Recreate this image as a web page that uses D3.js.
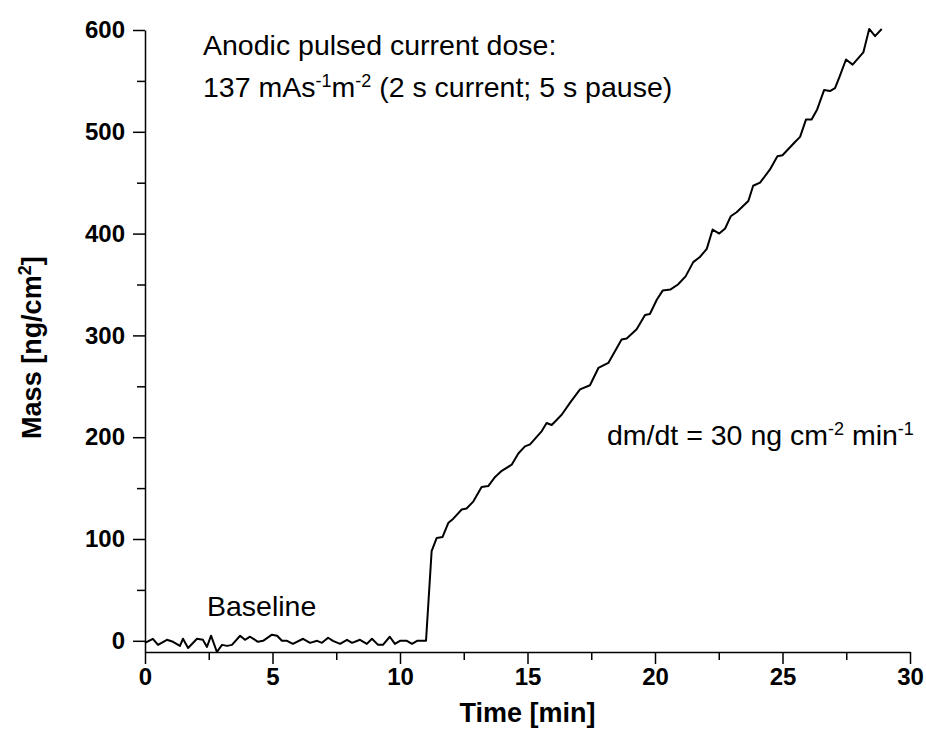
<!DOCTYPE html>
<html>
<head>
<meta charset="utf-8">
<script src="https://cdn.jsdelivr.net/npm/d3@7"></script>
<style>
  body { margin: 0; background: #fff; }
  svg { display: block; font-family: Arial, "Liberation Sans", sans-serif; }
  .tick text { font-weight: bold; font-size: 24px; fill: #000; }
  .tick line, .domain { stroke: #000; stroke-width: 1.5px; }
</style>
</head>
<body>
<div id="container"></div>
<script>
const width = 926, height = 746;
const margin = { top: 30, right: 16, bottom: 94, left: 145 };

// time [min] and mass [ng/cm2]
const time = [
  0, 0.31, 0.51, 0.86, 1.1, 1.37, 1.49, 1.69, 2.04, 2.27, 2.43, 2.59, 2.82, 3.02, 3.22, 3.41,
  3.73, 3.92, 4.12, 4.43, 4.63, 4.98, 5.18, 5.37, 5.57, 5.8, 6.2, 6.47, 6.75, 6.94, 7.18,
  7.37, 7.65, 7.92, 8.12, 8.43, 8.7, 8.9, 9.14, 9.33, 9.6, 9.8, 10.0, 10.27, 10.47, 10.67,
  10.9, 11.02, 11.24, 11.44, 11.67, 11.9, 12.09, 12.42, 12.61, 12.88, 13.2, 13.46, 13.73,
  13.99, 14.38, 14.64, 14.9, 15.1, 15.56, 15.75, 15.95, 16.34, 16.7, 17.06, 17.45, 17.78,
  18.17, 18.69, 18.89, 19.28, 19.61, 19.8, 20.07, 20.3, 20.6, 20.9, 21.2, 21.5, 21.76,
  22.03, 22.26, 22.52, 22.75, 22.97, 23.2, 23.66, 23.85, 24.12, 24.51, 24.8, 25.0, 25.49,
  25.69, 25.92, 26.14, 26.36, 26.63, 26.86, 27.06, 27.25, 27.49, 27.75, 28.17, 28.4,
  28.63, 28.89
];
const mass = [
  -2, 2, -4, 1, -1, -5, 2, -7, 2, 1, -6, 5, -11, -4, -5, -4,
  5, 1, 4, -1, 0, 6, 5, 0, 0, -3, 2, -2, 0, -2, 3,
  0, -3, 1, -2, 1, -3, 2, -4, -4, 4, -3, 0, 0, -3, 0,
  0, 0, 88, 101, 102, 116, 120, 129, 130, 137, 151, 152, 161,
  167, 173, 184, 191, 193, 206, 214, 212, 222, 235, 247, 251, 268,
  273, 296, 297, 306, 320, 321, 335, 344, 345, 350, 358, 372, 377,
  385, 404, 400, 405, 417, 421, 432, 447, 450, 463, 476, 477, 490,
  495, 512, 512, 522, 541, 540, 543, 555, 571, 566, 578, 601,
  594, 601
];

const xTicks = [0, 5, 10, 15, 20, 25, 30];
const yTicks = [0, 100, 200, 300, 400, 500, 600];

const svg = d3.select("#container").append("svg")
  .attr("width", width).attr("height", height);

const x = d3.scaleLinear().domain([0, 30]).range([margin.left, width - margin.right]);
const y = d3.scaleLinear().domain([-11, 600]).range([height - margin.bottom, margin.top]);

// minor ticks
svg.append("g")
  .attr("transform", `translate(0,${y(-11)})`)
  .call(d3.axisBottom(x).tickValues(d3.range(2.5, 30, 5)).tickSize(8).tickFormat(""))
  .call(g => g.select(".domain").remove());
svg.append("g")
  .attr("transform", `translate(${x(0)},0)`)
  .call(d3.axisLeft(y).tickValues(d3.range(50, 600, 100)).tickSize(8).tickFormat(""))
  .call(g => g.select(".domain").remove());

// major axes
svg.append("g")
  .attr("transform", `translate(0,${y(-11)})`)
  .call(d3.axisBottom(x).tickValues(xTicks).tickSize(12).tickPadding(4).tickSizeOuter(0));
svg.append("g")
  .attr("transform", `translate(${x(0)},0)`)
  .call(d3.axisLeft(y).tickValues(yTicks).tickSize(12).tickPadding(8).tickSizeOuter(0));

const line = d3.line().x((d, i) => x(time[i])).y(d => y(d));
svg.append("path")
  .datum(mass)
  .attr("fill", "none")
  .attr("stroke", "#000")
  .attr("stroke-width", 2)
  .attr("stroke-linejoin", "round")
  .attr("d", line);

// axis titles
svg.append("text")
  .attr("x", x(15)).attr("y", 722)
  .attr("text-anchor", "middle")
  .style("font-weight", "bold").style("font-size", "27px")
  .text("Time [min]");

const yl = svg.append("text")
  .attr("transform", `translate(41,${y(288)}) rotate(-90)`)
  .attr("text-anchor", "middle")
  .style("font-weight", "bold").style("font-size", "27px");
yl.append("tspan").text("Mass [ng/cm");
yl.append("tspan").attr("dy", -10).style("font-size", "18px").text("2");
yl.append("tspan").attr("dy", 10).text("]");

// annotations
function note(px, py, parts) {
  const t = svg.append("text").attr("x", px).attr("y", py).style("font-size", "28.5px");
  parts.forEach(p => {
    if (p.sup) t.append("tspan").attr("dy", -10).style("font-size", "18px").text(p.sup);
    else t.append("tspan").attr("dy", p.after ? 10 : 0).text(p.t);
  });
}
note(203, 55, [{ t: "Anodic pulsed current dose:" }]);
note(203, 97, [{ t: "137 mAs" }, { sup: "-1" }, { t: "m", after: 1 }, { sup: "-2" }, { t: " (2 s current; 5 s pause)", after: 1 }]);
note(607, 445, [{ t: "dm/dt = 30 ng cm" }, { sup: "-2" }, { t: " min", after: 1 }, { sup: "-1" }]);
note(207, 616, [{ t: "Baseline" }]);
</script>
</body>
</html>
